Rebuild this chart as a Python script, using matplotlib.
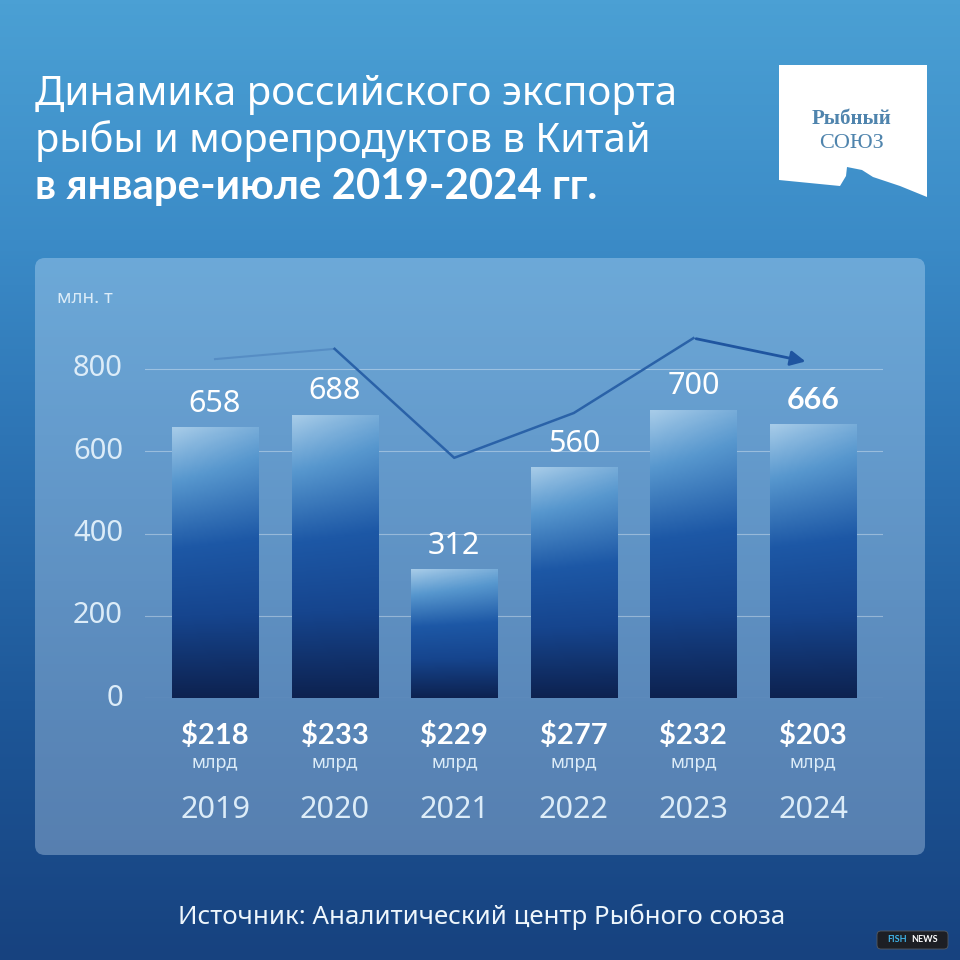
import matplotlib.pyplot as plt
import numpy as np
from matplotlib.patches import FancyBboxPatch, Polygon
from matplotlib.colors import LinearSegmentedColormap

plt.rcParams['font.family'] = ['Noto Sans', 'DejaVu Sans']
BOLD = ['Lato', 'DejaVu Sans']

years = ['2019', '2020', '2021', '2022', '2023', '2024']
volumes = [658, 688, 312, 560, 700, 666]
export_usd = ['$218', '$233', '$229', '$277', '$232', '$203']
trend = [824, 849, 584, 693, 875, 817]
yticks = [0, 200, 400, 600, 800]

fig = plt.figure(figsize=(9.6, 9.6), dpi=100)
renderer = fig.canvas.get_renderer()


def fit_width(txt, width_px):
    # stretch the font size so the text covers the same width as the reference
    bb = txt.get_window_extent(renderer=renderer)
    txt.set_fontsize(txt.get_fontsize() * width_px / bb.width)


# background in pixel coordinates
bg = fig.add_axes([0, 0, 1, 1])
bg.set_xlim(0, 960)
bg.set_ylim(960, 0)
bg.axis('off')

sea = LinearSegmentedColormap.from_list('sea', ['#4ba0d4', '#3b8bc7', '#2b70b1', '#1d5697', '#17427f'])
grad = np.linspace(0, 1, 256).reshape(-1, 1)
bg.imshow(grad, cmap=sea, extent=(0, 960, 960, 0), aspect='auto', zorder=0)

panel = FancyBboxPatch((35, 258), 890, 597, boxstyle='round,pad=0,rounding_size=10',
                       facecolor='#d6ecff', edgecolor='none', alpha=0.33, zorder=1)
bg.add_patch(panel)

t1 = bg.text(35, 95, 'Динамика российского экспорта', color='white', fontsize=27,
             va='center', ha='left')
t2 = bg.text(35, 141, 'рыбы и морепродуктов в Китай', color='white', fontsize=27,
             va='center', ha='left')
t3 = bg.text(35, 187, 'в январе-июле 2019-2024 гг.', color='white', fontsize=27,
             family=BOLD, fontweight='bold', va='center', ha='left')
fit_width(t1, 642)
fit_width(t2, 616)
fit_width(t3, 561)

# logo
logo = Polygon([(779, 65), (927, 65), (927, 197), (900, 186), (873, 177),
                (862, 170), (847, 167), (846, 176), (840, 186), (779, 180)],
               closed=True, facecolor='white', edgecolor='none', zorder=2)
bg.add_patch(logo)
bg.text(852, 119, 'Рыбный', family=['Liberation Serif', 'DejaVu Serif'], fontweight='bold',
        fontsize=15, color='#4f84ad', ha='center', va='center', zorder=3)
bg.text(852, 143, 'СОЮЗ', family=['Liberation Serif', 'DejaVu Serif'],
        fontsize=16, color='#4f84ad', ha='center', va='center', zorder=3)

src = bg.text(178, 917, 'Источник: Аналитический центр Рыбного союза', color='#eef6fc',
              fontsize=16, ha='left', va='center')
fit_width(src, 605)

badge = FancyBboxPatch((877, 931), 71, 18, boxstyle='round,pad=0,rounding_size=4',
                       facecolor='#1d1f24', edgecolor='#555a60', lw=0.6, zorder=3)
bg.add_patch(badge)
bg.text(897, 940, 'FISH', color='#3fb3e8', fontsize=6.5, family=BOLD, fontweight='bold',
        ha='center', va='center', zorder=4)
bg.text(925, 940, 'NEWS', color='white', fontsize=6.5, family=BOLD, fontweight='bold',
        ha='center', va='center', zorder=4)

# chart axes: 0 at y=698px, 800 at y=369px
px_per_unit = (698 - 369) / 800
top_px = 290
ax = fig.add_axes([145 / 960, 1 - 698 / 960, (883 - 145) / 960, (698 - top_px) / 960])
ax.patch.set_alpha(0)
ymax = (698 - top_px) / px_per_unit
spacing = (813 - 215) / 5
for s in ax.spines.values():
    s.set_visible(False)
ax.set_xticks([])
ax.set_yticks([])

light = '#dcecf8'
for t in yticks:
    ax.axhline(t, color='white', alpha=0.35, lw=0.8, zorder=1)
    ax.text(-0.77, t, str(t), color=light, fontsize=21,
            ha='right', va='center', clip_on=False)
ax.text(-1.32, 800 + 71 / px_per_unit, 'млн. т', color=light, fontsize=13.5,
        ha='left', va='center', clip_on=False)

bar_cmap = LinearSegmentedColormap.from_list(
    'bar', [(0.0, '#0d2250'), (0.3, '#16458e'), (0.55, '#1d58a6'), (0.8, '#5797ce'), (1.0, '#a6cbe8')])
w = 0.72
vert = np.linspace(0, 1, 128).reshape(-1, 1)
horiz = np.linspace(1, 0, 32).reshape(1, -1)
for i, v in enumerate(volumes):
    vals = vert * (1 - 0.12 * (1 - horiz) * vert)
    img = bar_cmap(vals[::-1])
    ax.imshow(img, extent=(i - w / 2, i + w / 2, 0, v), aspect='auto', zorder=2,
              interpolation='bilinear')
    if i == len(volumes) - 1:
        ax.text(i, v + 58, str(v), color='white', fontsize=22, family=BOLD,
                fontweight='bold', ha='center', va='center', zorder=4)
    else:
        ax.text(i, v + 58, str(v), color='white', fontsize=22,
                ha='center', va='center', zorder=4)
    ax.text(i, -90, export_usd[i], color='white', fontsize=21, family=BOLD,
            fontweight='bold', ha='center', va='center', clip_on=False)
    ax.text(i, -158, 'млрд', color=light, fontsize=13,
            ha='center', va='center', clip_on=False)
    ax.text(i, -272, years[i], color=light, fontsize=22,
            ha='center', va='center', clip_on=False)
ax.set_xlim((145 - 215) / spacing, (883 - 215) / spacing)
ax.set_ylim(0, ymax)

xs = np.arange(len(trend))
ax.plot(xs[:2], trend[:2], color='#4a80bb', lw=1.5, alpha=0.6, zorder=3)
ax.plot(xs[1:5], trend[1:5], color='#2a62a8', lw=1.8, zorder=3)
ax.annotate('', xy=(xs[5] - 0.04, trend[5]), xytext=(xs[4], trend[4]),
            arrowprops=dict(arrowstyle='-|>,head_length=0.9,head_width=0.45',
                            color='#1f55a0', lw=2.0), zorder=3)

fig.savefig('out.png', dpi=100)
